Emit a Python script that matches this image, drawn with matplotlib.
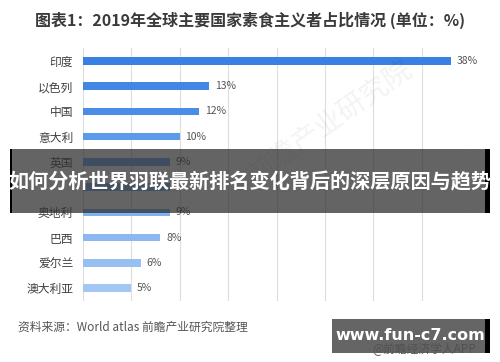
import matplotlib
matplotlib.use('Agg')
import matplotlib.pyplot as plt
from matplotlib.patches import Rectangle

plt.rcParams['font.family'] = ['Noto Sans CJK SC', 'DejaVu Sans']

# 数据 (单位: %)
countries = ['印度', '以色列', '中国', '意大利', '英国', '德国', '奥地利', '巴西', '爱尔兰', '澳大利亚']
shares = [38, 13, 12, 10, 9, 9, 9, 8, 6, 5]
bar_colors = ['#3A80E2', '#4287E4', '#4A8DE6', '#5C9BE9', '#6AA4EA',
              '#76ABEC', '#80B2EE', '#8BB8F0', '#97C0F1', '#A2C7F2']
hidden_row = 5  # 被横幅文字遮住的一行

fig = plt.figure(figsize=(5, 3.62), dpi=100)
fig.patch.set_facecolor('white')
ax = fig.add_axes([0.166, 0.1696, 0.774, 0.6967])

y = list(range(len(countries)))
ax.barh(y, shares, height=0.3, color=bar_colors, zorder=3)
for yi, v in zip(y, shares):
    if yi == hidden_row:
        continue
    ax.text(v + 0.6, yi, f'{v}%', va='center', ha='left', fontsize=7.5, color='#555555')

ax.set_xlim(0, 40)
ax.set_ylim(len(countries) - 0.5, -0.5)
ax.set_xticks(range(0, 41, 5))
ax.set_xticklabels([])
ax.set_yticks(y)
ax.set_yticklabels(['' if i == hidden_row else c for i, c in enumerate(countries)],
                   fontsize=8.5, color='#404040')
ax.tick_params(axis='both', length=0)
ax.tick_params(axis='y', pad=7)
ax.grid(axis='x', color='#dddddd', linewidth=0.8, zorder=0)
for s in ax.spines.values():
    s.set_visible(False)

# 标题
fig.text(0.07, 0.945, '图表1：2019年全球主要国家素食主义者占比情况 (单位：%)',
         fontsize=11.5, fontweight='bold', color='#3a3a3a', va='center', ha='left')

# 水印
fig.text(0.66, 0.66, '前瞻产业研究院', fontsize=20, color='#000000', alpha=0.05,
         rotation=35, ha='center', va='center')

# 横幅
fig.patches.append(Rectangle((0.02, (362 - 213) / 362), 0.955, 64 / 362,
                             transform=fig.transFigure, facecolor='#303030',
                             alpha=0.75, zorder=5))
fig.patches.append(Rectangle((0.02, (362 - 213) / 362), 0.004, 64 / 362,
                             transform=fig.transFigure, facecolor='black', zorder=6))
fig.patches.append(Rectangle((0.97, (362 - 213) / 362), 0.01, 64 / 362,
                             transform=fig.transFigure, facecolor='black', zorder=6))
fig.text(0.5, (362 - 182) / 362, '如何分析世界羽联最新排名变化背后的深层原因与趋势',
         fontsize=14.5, fontweight='bold', color='white', ha='center', va='center', zorder=7)

# 资料来源
fig.text(0.036, (362 - 327) / 362, '资料来源：World atlas 前瞻产业研究院整理',
         fontsize=8.5, color='#555555', ha='left', va='center')
fig.text(0.745, (362 - 349) / 362, '@前瞻经济学人APP', fontsize=8.5, color='#555555',
         ha='left', va='center', zorder=4)
fig.patches.append(Rectangle((0.664, (362 - 353) / 362), 0.306, 34 / 362,
                             transform=fig.transFigure, facecolor='#505050',
                             alpha=0.88, zorder=5))
fig.patches.append(Rectangle((0.97, (362 - 353) / 362), 0.01, 34 / 362,
                             transform=fig.transFigure, facecolor='black', zorder=6))
fig.text(0.821, (362 - 335) / 362, 'www.fun-c7.com', fontsize=11.5, fontweight='bold',
         color='white', ha='center', va='center', family=['DejaVu Sans'], zorder=7)

fig.savefig('out.png', dpi=100)
